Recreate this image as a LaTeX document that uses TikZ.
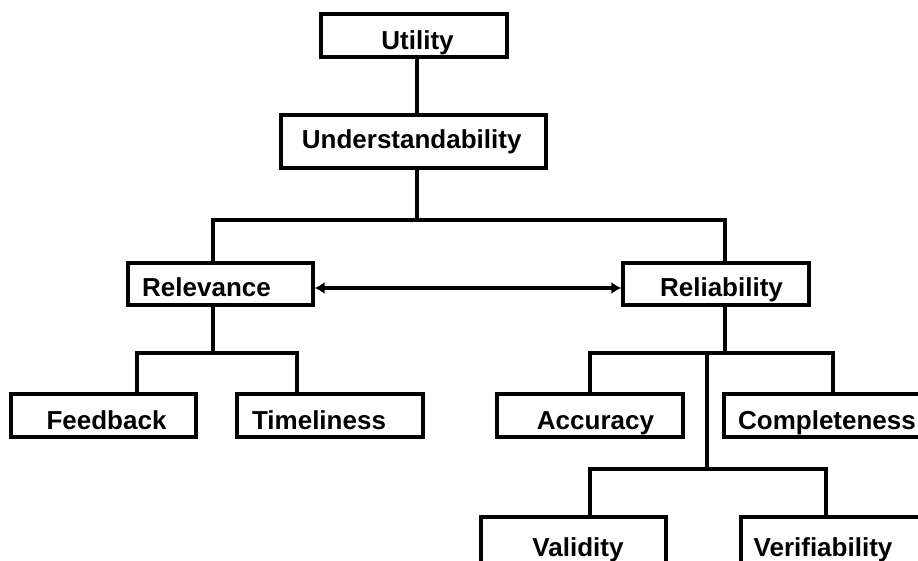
\documentclass[tikz,border=0pt]{standalone}
\usepackage{fontspec}
\setmainfont{Liberation Sans}
\usetikzlibrary{arrows.meta}
\tikzset{
  box/.style={draw=black, line width=3.3pt, rectangle, inner sep=0pt, fill=white},
  lbl/.style={anchor=base, inner sep=0pt, font=\fontsize{26}{30}\selectfont\bfseries},
  conn/.style={draw=black, line width=3.3pt},
  arr/.style={draw=black, line width=4pt, {Latex[length=10pt,width=12pt]}-{Latex[length=10pt,width=12pt]}}
}
\begin{document}
\begin{tikzpicture}[x=1pt,y=-1pt]
\useasboundingbox (0,0) rectangle (918,561);
\clip (0,0) rectangle (918,561);
% boxes
\node[box, minimum width=186pt, minimum height=43pt] (ut) at (414,35.5) {};
\node[box, minimum width=265pt, minimum height=53pt] (us) at (413.5,141.5) {};
\node[box, minimum width=185pt, minimum height=42pt] (rel) at (220.5,284) {};
\node[box, minimum width=186pt, minimum height=42pt] (reli) at (716,284) {};
\node[box, minimum width=185pt, minimum height=43pt] (fb) at (103.5,415.5) {};
\node[box, minimum width=186pt, minimum height=43pt] (tm) at (330,415.5) {};
\node[box, minimum width=186pt, minimum height=43pt] (ac) at (590,415.5) {};
\node[box, minimum width=216pt, minimum height=43pt] (cp) at (832,415.5) {};
\node[box, minimum width=185pt, minimum height=53pt] (va) at (573.5,543.5) {};
\node[box, minimum width=199pt, minimum height=53pt] (vf) at (840.5,543.5) {};
% labels
\node[lbl] (utt) at (417.5,50) {Utility};
\node[lbl] (ust) at (411.7,148.3) {Understandability};
\node[lbl] (relt) at (206.5,296.7) {Relevance};
\node[lbl] (relit) at (721.5,296.7) {Reliability};
\node[lbl] (fbt) at (106.5,429.3) {Feedback};
\node[lbl] (tmt) at (319,429.3) {Timeliness};
\node[lbl] (act) at (595.5,429.3) {Accuracy};
\node[lbl] (cpt) at (827,429.3) {Completeness};
\node[lbl] (vat) at (578,556.7) {Validity};
\node[lbl] (vft) at (823,556.7) {Verifiability};
% junction coordinates
\coordinate (j0) at (417,220);
\coordinate (jl) at (213,220);
\coordinate (jr) at (725,220);
\coordinate (rl) at (213,353);
\coordinate (fbj) at (137,353);
\coordinate (tmj) at (297,353);
\coordinate (rb) at (725,353);
\coordinate (acj) at (590,353);
\coordinate (cpj) at (833,353);
\coordinate (mid) at (707,353);
\coordinate (midb) at (707,469);
\coordinate (vaj) at (590,469);
\coordinate (vfj) at (826,469);
\coordinate (ay) at (0,288);
% connectors
\draw[conn] (ut.south -| j0) -- (us.north -| j0);
\draw[conn] (us.south -| j0) -- (j0);
\draw[conn] (rel.north -| jl) -- (jl) -- (jr) -- (reli.north -| jr);
\draw[conn] (rel.south -| rl) -- (rl);
\draw[conn] (fb.north -| fbj) -- (fbj) -- (tmj) -- (tm.north -| tmj);
\draw[conn] (reli.south -| rb) -- (rb);
\draw[conn] (ac.north -| acj) -- (acj) -- (cpj) -- (cp.north -| cpj);
\draw[conn] (mid) -- (midb);
\draw[conn] (va.north -| vaj) -- (vaj) -- (vfj) -- (vf.north -| vfj);
\draw[arr] (rel.east |- ay) -- (reli.west |- ay);
\end{tikzpicture}
\end{document}
